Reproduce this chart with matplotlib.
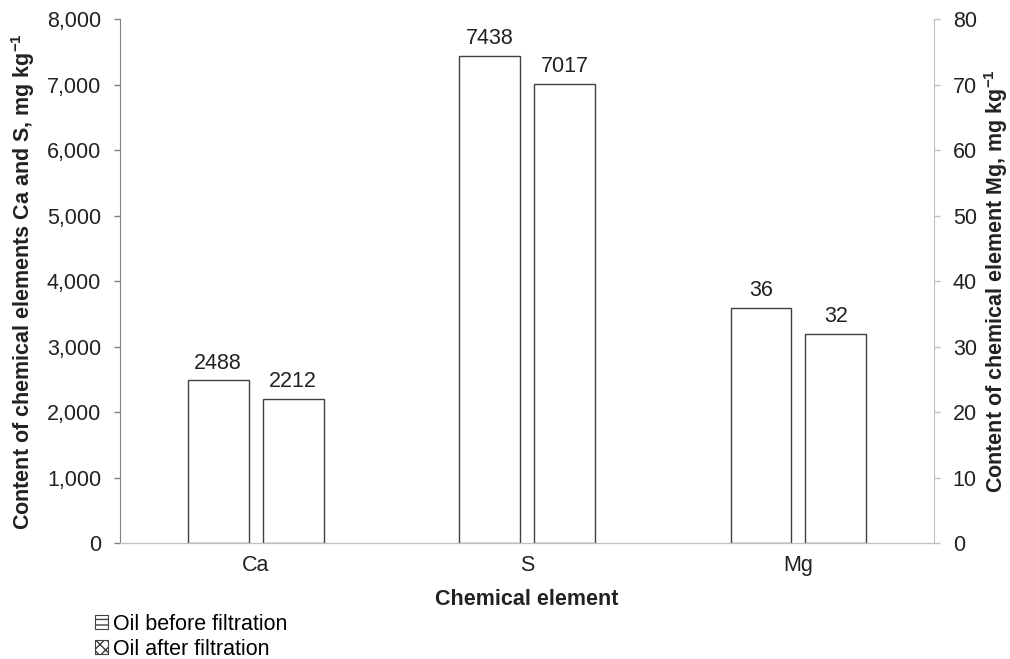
import matplotlib.pyplot as plt
from matplotlib.patches import Patch
from matplotlib.ticker import FuncFormatter

plt.rcParams['font.family'] = ['Liberation Sans', 'DejaVu Sans']
plt.rcParams['mathtext.fontset'] = 'custom'
plt.rcParams['mathtext.rm'] = 'Liberation Sans'
plt.rcParams['mathtext.bf'] = 'Liberation Sans:bold'

elements = ['Ca', 'S', 'Mg']
before_main = [2488, 7438]   # Ca, S on left axis
after_main = [2212, 7017]
before_mg = [36]             # Mg on right axis
after_mg = [32]
series = ['Oil before filtration', 'Oil after filtration']

fs = 15.5
txt = '#222222'

fig = plt.figure(figsize=(10.1, 6.59), dpi=100)
ax = fig.add_axes([0.1188, 0.1753, 0.806, 0.7954])
ax2 = ax.twinx()

w = 0.224
off = 0.138
edge = '#404040'

b1 = ax.bar([i - off for i in range(2)], before_main, w, color='white', edgecolor=edge, linewidth=1)
b2 = ax.bar([i + off for i in range(2)], after_main, w, color='white', edgecolor=edge, linewidth=1)
b3 = ax2.bar([2 - off], before_mg, w, color='white', edgecolor=edge, linewidth=1)
b4 = ax2.bar([2 + off], after_mg, w, color='white', edgecolor=edge, linewidth=1)

ax.bar_label(b1, padding=5, fontsize=fs, color=txt)
ax.bar_label(b2, padding=5, fontsize=fs, color=txt)
ax2.bar_label(b3, padding=5, fontsize=fs, color=txt)
ax2.bar_label(b4, padding=5, fontsize=fs, color=txt)

ax.set_xlim(-0.5, 2.5)
ax.set_ylim(0, 8000)
ax2.set_ylim(0, 80)
ax.set_yticks(range(0, 8001, 1000))
ax2.set_yticks(range(0, 81, 10))
ax.yaxis.set_major_formatter(FuncFormatter(lambda v, p: f'{int(v):,}'))
ax.set_xticks(range(3))
ax.set_xticklabels(elements)

ax.tick_params(axis='x', length=0, labelsize=fs, pad=8, labelcolor=txt)
ax.tick_params(axis='y', length=4.5, width=1, color='#808080', labelsize=fs, pad=9, labelcolor=txt)
ax2.tick_params(axis='y', length=4.5, width=1, color='#c0c0c0', labelsize=fs, pad=9, labelcolor=txt)

for a in (ax, ax2):
    a.spines['top'].set_visible(False)
    a.spines['bottom'].set_color('#c0c0c0')
    a.spines['left'].set_color('#808080')
    a.spines['right'].set_color('#c0c0c0')
ax.spines['right'].set_visible(False)
ax2.spines['left'].set_visible(False)

ax.set_xlabel('Chemical element', fontsize=fs, fontweight='bold', labelpad=10, color=txt)
ax.set_ylabel('Content of chemical elements Ca and S, mg kg$^{\\mathbf{-1}}$', fontsize=fs,
              fontweight='bold', labelpad=7, color=txt)
ax2.set_ylabel('Content of chemical element Mg, mg kg$^{\\mathbf{-1}}$', fontsize=fs,
               fontweight='bold', labelpad=4, color=txt)

handles = [Patch(facecolor='white', edgecolor='#404040', hatch='---', linewidth=0.8),
           Patch(facecolor='white', edgecolor='#404040', hatch='xxx', linewidth=0.8)]
fig.legend(handles, series, loc='upper left', bbox_to_anchor=(0.094, 0.069), frameon=False,
           fontsize=fs, handlelength=0.6, handleheight=0.6, handletextpad=0.25,
           labelspacing=0.2, borderaxespad=0, borderpad=0)

fig.savefig('out.png', dpi=100)
